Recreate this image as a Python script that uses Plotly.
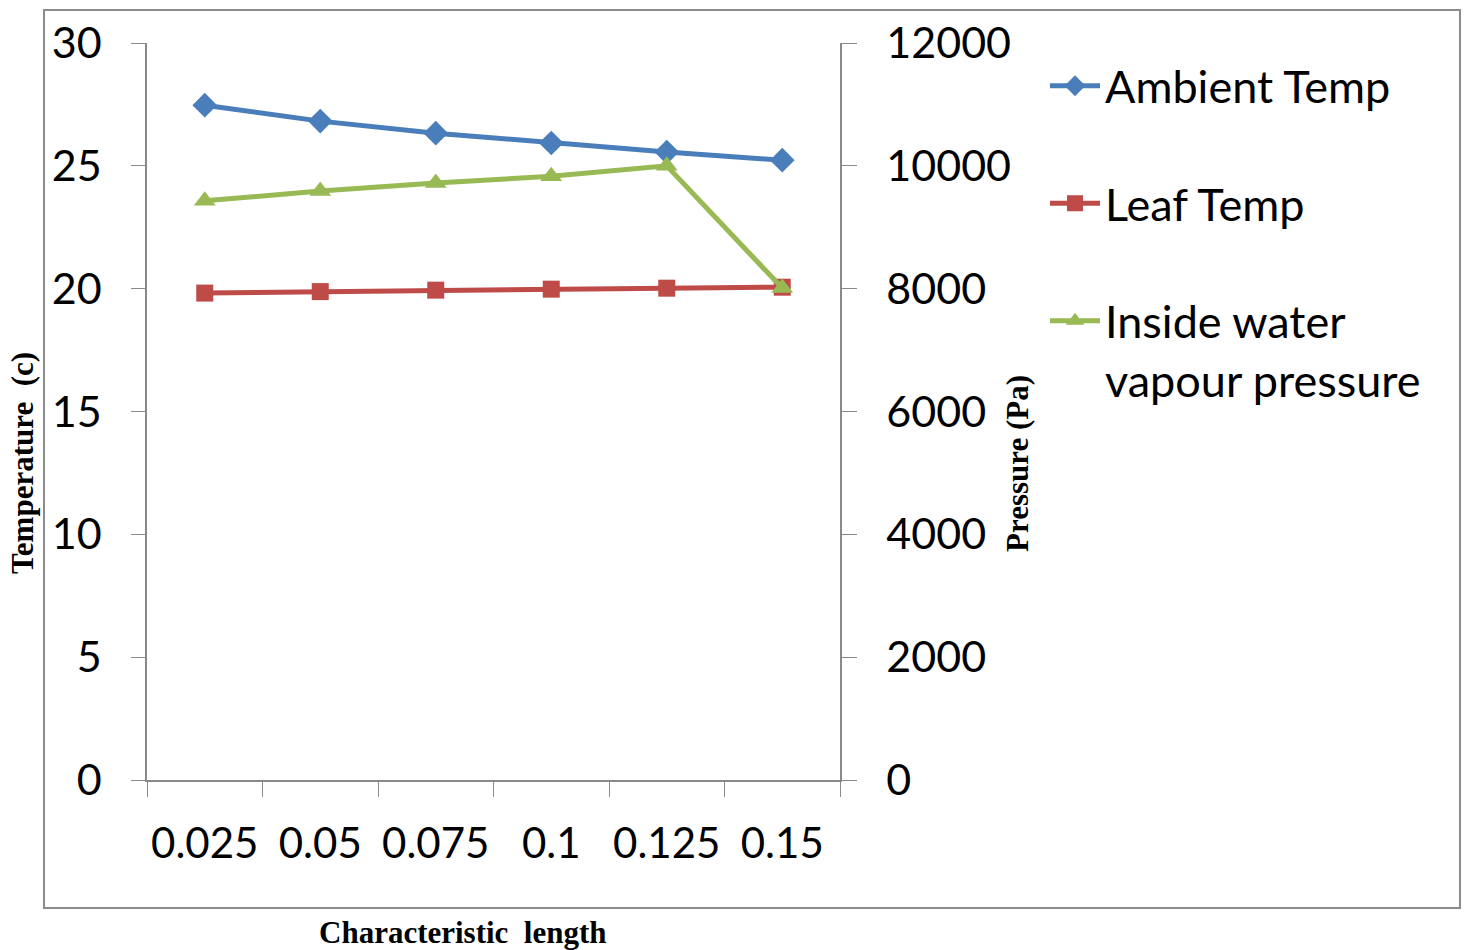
import plotly.graph_objects as go

# Characteristic length categories
lengths = ["0.025", "0.05", "0.075", "0.1", "0.125", "0.15"]

# Temperatures (c)
ambient_temp = [27.47, 26.82, 26.33, 25.93, 25.56, 25.23]
leaf_temp = [19.82, 19.88, 19.94, 19.98, 20.02, 20.06]

# Inside water vapour pressure (Pa)
vapour_pressure = [9430, 9590, 9720, 9830, 10000, 8010]

BLUE = "#4A7EBB"
RED = "#BE4B48"
GREEN = "#98B954"
AXIS_GREY = "#898989"
TICK_FONT = dict(family="Lato", size=43, color="black")
TITLE_FONT = dict(family="Liberation Serif", size=31, color="black")

fig = go.Figure()

fig.add_trace(go.Scatter(
    x=lengths, y=ambient_temp, name="Ambient Temp", mode="lines+markers",
    line=dict(color=BLUE, width=5), legendgroup="a",
    marker=dict(symbol="diamond", size=19, color=BLUE),
))
fig.add_trace(go.Scatter(
    x=lengths, y=leaf_temp, name="Leaf Temp", mode="lines+markers",
    line=dict(color=RED, width=5), legendgroup="b",
    marker=dict(symbol="square", size=17, color=RED),
))
fig.add_trace(go.Scatter(
    x=lengths, y=vapour_pressure, name="Inside water<br>vapour pressure",
    mode="lines+markers", yaxis="y2", legendgroup="c",
    line=dict(color=GREEN, width=5),
    marker=dict(symbol="triangle-up", size=19, color=GREEN),
))

# plot area spans px 147..840 horizontally and 43..780 vertically
L, R, T, B = 147, 840, 43, 780
W, H = 1470, 950
pw, ph = R - L, B - T


def px_x(px):
    return (px - L) / pw


def px_y(py):
    return (B - py) / ph


fig.update_layout(
    width=W, height=H, autosize=False,
    margin=dict(l=L, r=W - R, t=T, b=H - B),
    paper_bgcolor="white", plot_bgcolor="white",
    showlegend=True,
    legend=dict(
        x=px_x(1045), y=px_y(50), xanchor="left", yanchor="top",
        font=dict(family="Lato", size=45, color="black"),
        tracegroupgap=56, traceorder="grouped", valign="top",
        bgcolor="rgba(0,0,0,0)", itemwidth=50,
    ),
    xaxis=dict(
        type="category", tickson="boundaries", ticks="outside", ticklen=15,
        tickcolor=AXIS_GREY, showline=True, linecolor=AXIS_GREY, linewidth=1.5,
        showgrid=False, zeroline=False,
        tickfont=dict(family="Lato", size=42, color="black"), tickangle=0,
        ticklabelstandoff=26, range=[-0.5, 5.5],
    ),
    yaxis=dict(
        range=[0, 30], dtick=5, ticks="outside", ticklen=14,
        tickcolor=AXIS_GREY, showline=True, linecolor=AXIS_GREY, linewidth=1.5,
        showgrid=False, zeroline=False, tickfont=TICK_FONT,
        ticklabelstandoff=21,
    ),
    yaxis2=dict(
        range=[0, 12000], dtick=2000, tickformat="d", overlaying="y",
        side="right", ticks="outside", ticklen=15, tickcolor=AXIS_GREY,
        showline=True, linecolor=AXIS_GREY, linewidth=1.5, showgrid=False,
        zeroline=False, tickfont=TICK_FONT, ticklabelstandoff=21,
    ),
    shapes=[dict(
        type="rect", xref="paper", yref="paper",
        x0=px_x(44), x1=px_x(1460), y0=px_y(908), y1=px_y(10),
        line=dict(color="#8C8C8C", width=2), layer="below",
    )],
    annotations=[
        dict(text="<b>Temperature  (c)</b>", xref="paper", yref="paper",
             x=px_x(22), y=px_y(463), textangle=-90, showarrow=False,
             font=TITLE_FONT, xanchor="center", yanchor="middle"),
        dict(text="<b>Pressure (Pa)</b>", xref="paper", yref="paper",
             x=px_x(1017), y=px_y(463), textangle=-90, showarrow=False,
             font=TITLE_FONT, xanchor="center", yanchor="middle"),
        dict(text="<b>Characteristic  length</b>", xref="paper", yref="paper",
             x=px_x(463), y=px_y(932), showarrow=False,
             font=TITLE_FONT, xanchor="center", yanchor="middle"),
    ],
)

fig.write_html("out.html")
